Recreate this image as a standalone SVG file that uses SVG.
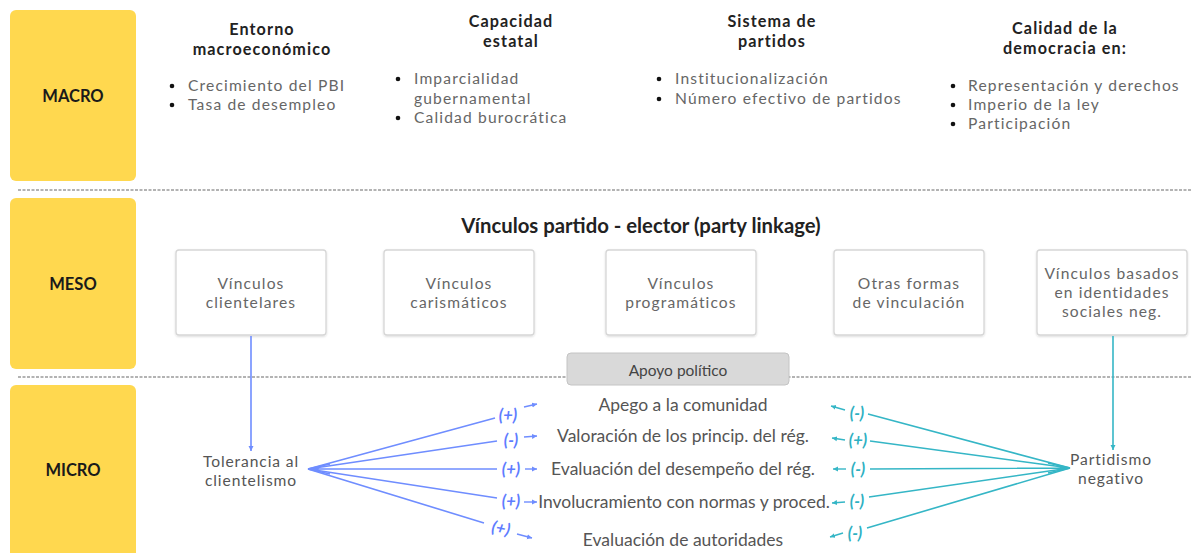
<svg xmlns="http://www.w3.org/2000/svg" width="1192" height="553" viewBox="0 0 1192 553">
<defs>
<style>
.lvl{fill:#ffd84f;}
.lvlt{font-family:Lato,"Open Sans",sans-serif;font-weight:bold;font-size:16.5px;fill:#1a1a1a;text-anchor:middle;}
.hd{font-family:Lato,"Open Sans",sans-serif;font-weight:bold;font-size:16.2px;letter-spacing:1.1px;fill:#222;text-anchor:middle;}
.bl{font-family:Lato,"Open Sans",sans-serif;font-size:15.6px;letter-spacing:1.15px;fill:#666;}
.dot{fill:#111;}
.sep{stroke:#9a9a9a;stroke-width:1.5;stroke-dasharray:3 1.5;fill:none;}
.box{fill:#fff;stroke:#d6d6d6;stroke-width:1.3;}
.bt{font-family:Lato,"Open Sans",sans-serif;font-size:15.6px;letter-spacing:1.1px;fill:#666;text-anchor:middle;}
.mt{font-family:Lato,"Open Sans",sans-serif;font-size:17.5px;fill:#555;text-anchor:middle;}
.mt2{font-family:Lato,"Open Sans",sans-serif;font-size:15.6px;letter-spacing:0.9px;fill:#555;text-anchor:middle;}
.bline{stroke:#6f8dff;stroke-width:1.6;fill:none;}
.tline{stroke:#35b6c6;stroke-width:1.6;fill:none;}
.bsmall{stroke:#6f8dff;stroke-width:1.4;fill:none;}
.tsmall{stroke:#35b6c6;stroke-width:1.4;fill:none;}
.bl2{font-family:Lato,"Open Sans",sans-serif;font-size:16.5px;font-weight:bold;font-style:italic;fill:#5e7cff;text-anchor:middle;}
.tl2{font-family:Lato,"Open Sans",sans-serif;font-size:16.5px;font-weight:bold;font-style:italic;fill:#2eb0c2;text-anchor:middle;}
</style>
<filter id="sh" x="-10%" y="-10%" width="120%" height="130%">
<feDropShadow dx="0" dy="1" stdDeviation="1.2" flood-color="#000" flood-opacity="0.15"/>
</filter>
<marker id="ab" markerWidth="6" markerHeight="6" refX="5" refY="3" orient="auto" markerUnits="userSpaceOnUse"><path d="M0,0.5 L5,3 L0,5.5 Z" fill="#6f8dff"/></marker>
<marker id="at" markerWidth="6" markerHeight="6" refX="5" refY="3" orient="auto" markerUnits="userSpaceOnUse"><path d="M0,0.5 L5,3 L0,5.5 Z" fill="#35b6c6"/></marker>
</defs>
<rect width="1192" height="553" fill="#fff"/>

<g id="macro">
<rect class="lvl" x="10" y="10" width="126" height="171" rx="6"/>
<text class="lvlt" x="73" y="102">MACRO</text>
</g>
<g id="meso">
<rect class="lvl" x="10" y="198" width="126" height="171" rx="6"/>
<text class="lvlt" x="73" y="290">MESO</text>
</g>
<g id="micro">
<rect class="lvl" x="10" y="385" width="126" height="175" rx="6"/>
<text class="lvlt" x="73" y="476">MICRO</text>
</g>

<g id="separators">
<line class="sep" x1="18" y1="190" x2="1192" y2="190"/>
<line class="sep" x1="18" y1="377" x2="1192" y2="377"/>
</g>

<g id="entorno">
<text class="hd" x="262" y="35">Entorno</text>
<text class="hd" x="262" y="55">macroeconómico</text>
<circle class="dot" cx="172" cy="86" r="2.3"/>
<circle class="dot" cx="172" cy="105" r="2.3"/>
<text class="bl" x="188" y="91">Crecimiento del PBI</text>
<text class="bl" x="188" y="110">Tasa de desempleo</text>
</g>
<g id="capacidad">
<text class="hd" x="511" y="27">Capacidad</text>
<text class="hd" x="511" y="47">estatal</text>
<circle class="dot" cx="398" cy="79" r="2.3"/>
<circle class="dot" cx="398" cy="118" r="2.3"/>
<text class="bl" x="414" y="84">Imparcialidad</text>
<text class="bl" x="414" y="104">gubernamental</text>
<text class="bl" x="414" y="123">Calidad burocrática</text>
</g>
<g id="sistema">
<text class="hd" x="772" y="27">Sistema de</text>
<text class="hd" x="772" y="47">partidos</text>
<circle class="dot" cx="659" cy="79" r="2.3"/>
<circle class="dot" cx="659" cy="99" r="2.3"/>
<text class="bl" x="675" y="84">Institucionalización</text>
<text class="bl" x="675" y="104">Número efectivo de partidos</text>
</g>
<g id="calidad">
<text class="hd" x="1065" y="34">Calidad de la</text>
<text class="hd" x="1065" y="54">democracia en:</text>
<circle class="dot" cx="953" cy="86" r="2.3"/>
<circle class="dot" cx="953" cy="105" r="2.3"/>
<circle class="dot" cx="953" cy="124" r="2.3"/>
<text class="bl" x="968" y="91">Representación y derechos</text>
<text class="bl" x="968" y="110">Imperio de la ley</text>
<text class="bl" x="968" y="129">Participación</text>
</g>

<g id="meso-title">
<text class="hd" x="641" y="233" style="font-size:20.3px;letter-spacing:0">Vínculos partido - elector (party linkage)</text>
</g>
<g id="clientelares">
<rect class="box" x="176" y="250" width="150" height="85" rx="3" filter="url(#sh)"/>
<text class="bt" x="251" y="289">Vínculos</text>
<text class="bt" x="251" y="308">clientelares</text>
</g>
<g id="carismaticos">
<rect class="box" x="384" y="250" width="150" height="85" rx="3" filter="url(#sh)"/>
<text class="bt" x="459" y="289">Vínculos</text>
<text class="bt" x="459" y="308">carismáticos</text>
</g>
<g id="programaticos">
<rect class="box" x="606" y="250" width="150" height="85" rx="3" filter="url(#sh)"/>
<text class="bt" x="681" y="289">Vínculos</text>
<text class="bt" x="681" y="308">programáticos</text>
</g>
<g id="otras">
<rect class="box" x="834" y="250" width="150" height="85" rx="3" filter="url(#sh)"/>
<text class="bt" x="909" y="289">Otras formas</text>
<text class="bt" x="909" y="308">de vinculación</text>
</g>
<g id="identidades">
<rect class="box" x="1037" y="250" width="150" height="85" rx="3" filter="url(#sh)"/>
<text class="bt" x="1112" y="279">Vínculos basados</text>
<text class="bt" x="1112" y="298">en identidades</text>
<text class="bt" x="1112" y="317">sociales neg.</text>
</g>
<g id="apoyo">
<rect x="567" y="353" width="222" height="32" rx="4" fill="#d9d9d9" stroke="#c4c4c4" stroke-width="1"/>
<text x="678" y="376" style="font-family:Lato,'Open Sans',sans-serif;font-size:15.5px;fill:#444;text-anchor:middle">Apoyo político</text>
</g>

<g id="tolerancia">
<text class="mt2" x="251" y="467">Tolerancia al</text>
<text class="mt2" x="251" y="486">clientelismo</text>
</g>
<g id="partidismo">
<text class="mt2" x="1111" y="465">Partidismo</text>
<text class="mt2" x="1111" y="484">negativo</text>
</g>
<g id="apego"><text class="mt" x="683" y="411">Apego a la comunidad</text></g>
<g id="valoracion"><text class="mt" x="683" y="442">Valoración de los princip. del rég.</text></g>
<g id="evaluacion-desempeno"><text class="mt" x="683" y="475">Evaluación del desempeño del rég.</text></g>
<g id="involucramiento"><text class="mt" x="684" y="508">Involucramiento con normas y proced.</text></g>
<g id="evaluacion-autoridades"><text class="mt" x="683" y="546">Evaluación de autoridades</text></g>

<g id="connectors">
<line class="bline" x1="251" y1="336" x2="251" y2="451" marker-end="url(#ab)"/>
<line class="tline" x1="1113" y1="336" x2="1113" y2="450" marker-end="url(#at)"/>

<path class="bline" d="M308,469 L495,418 M308,469 L497,441 M308,469 L497,469 M308,469 L497,498 M308,469 L484,523"/>
<path class="bline" d="M308,469 L330,464 M308,469 L330,474" stroke-width="2.5"/>
<line class="bsmall" x1="524" y1="407" x2="537" y2="404" marker-end="url(#ab)"/>
<line class="bsmall" x1="524" y1="437" x2="537" y2="436" marker-end="url(#ab)"/>
<line class="bsmall" x1="525" y1="469" x2="537" y2="469" marker-end="url(#ab)"/>
<line class="bsmall" x1="524" y1="502" x2="537" y2="502" marker-end="url(#ab)"/>
<line class="bsmall" x1="517" y1="534" x2="532" y2="538" marker-end="url(#ab)"/>
<text class="bl2" x="508" y="421">(+)</text>
<text class="bl2" x="511" y="446">(-)</text>
<text class="bl2" x="511" y="475">(+)</text>
<text class="bl2" x="511" y="507">(+)</text>
<text class="bl2" x="501" y="534" transform="rotate(12 501 528)">(+)</text>

<path class="tline" d="M1070,468 L868,414 M1070,468 L870,441 M1070,468 L870,469 M1070,468 L869,497 M1070,468 L867,528"/>
<path class="tline" d="M1070,468 L1048,463 M1070,468 L1048,473" stroke-width="2.5"/>
<line class="tsmall" x1="845" y1="410" x2="831" y2="406" marker-end="url(#at)"/>
<line class="tsmall" x1="845" y1="440" x2="832" y2="438" marker-end="url(#at)"/>
<line class="tsmall" x1="846" y1="469" x2="833" y2="469" marker-end="url(#at)"/>
<line class="tsmall" x1="845" y1="502" x2="832" y2="503" marker-end="url(#at)"/>
<line class="tsmall" x1="843" y1="533" x2="830" y2="537" marker-end="url(#at)"/>
<text class="tl2" x="857" y="419">(-)</text>
<text class="tl2" x="858" y="446">(+)</text>
<text class="tl2" x="858" y="475">(-)</text>
<text class="tl2" x="857" y="507">(-)</text>
<text class="tl2" x="855" y="539">(-)</text>
</g>
</svg>
